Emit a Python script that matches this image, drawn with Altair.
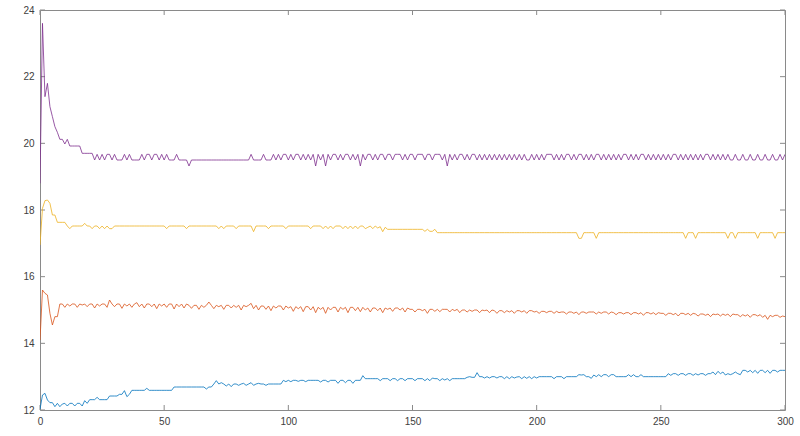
import altair as alt
import pandas as pd

# x positions are 0..300 (one value per step)
x_ticks = [0, 50, 100, 150, 200, 250, 300]
y_ticks = [12, 14, 16, 18, 20, 22, 24]

blue = [
    12.02, 12.45, 12.5, 12.3, 12.22, 12.22, 12.1, 12.2, 12.1, 12.18,
    12.2, 12.12, 12.2, 12.2, 12.12, 12.2, 12.2, 12.12, 12.28, 12.2,
    12.31, 12.31, 12.31, 12.38, 12.31, 12.31, 12.31, 12.31, 12.42, 12.42,
    12.42, 12.42, 12.47, 12.47, 12.58, 12.4, 12.47, 12.59, 12.59, 12.59,
    12.59, 12.59, 12.59, 12.65, 12.59, 12.59, 12.59, 12.59, 12.59, 12.59,
    12.59, 12.59, 12.59, 12.59, 12.69, 12.69, 12.69, 12.69, 12.69, 12.69,
    12.69, 12.69, 12.69, 12.69, 12.69, 12.69, 12.69, 12.63, 12.69, 12.69,
    12.78, 12.88, 12.78, 12.82, 12.78, 12.72, 12.78, 12.7, 12.78, 12.78,
    12.74, 12.78, 12.8, 12.74, 12.78, 12.82, 12.74, 12.78, 12.8, 12.78,
    12.78, 12.74, 12.78, 12.78, 12.78, 12.78, 12.78, 12.78, 12.89, 12.85,
    12.89, 12.85, 12.89, 12.89, 12.86, 12.89, 12.89, 12.85, 12.89, 12.89,
    12.89, 12.89, 12.89, 12.84, 12.89, 12.89, 12.84, 12.89, 12.89, 12.89,
    12.8, 12.89, 12.89, 12.82, 12.89, 12.89, 12.8, 12.89, 12.89, 12.89,
    13.03, 12.94, 12.94, 12.94, 12.94, 12.94, 12.94, 12.88, 12.94, 12.94,
    12.94, 12.88, 12.94, 12.94, 12.88, 12.94, 12.94, 12.88, 12.94, 12.94,
    12.94, 12.88, 12.94, 12.94, 12.94, 12.88, 12.94, 12.88, 12.96, 12.94,
    12.94, 12.88, 12.94, 12.9, 12.94, 12.88, 12.94, 12.94, 12.94, 12.94,
    12.94, 12.94, 12.98, 13.0, 12.98, 12.98, 13.12, 13.0, 13.0, 12.96,
    13.0, 12.96, 13.0, 13.0, 12.96, 13.0, 13.0, 12.94, 13.0, 12.94,
    13.0, 12.96, 12.99, 13.0, 12.94, 13.0, 12.95, 13.0, 12.94, 13.0,
    12.96, 13.0, 13.0, 13.0, 13.0, 13.0, 13.0, 12.94, 13.0, 13.0,
    13.0, 12.94, 13.0, 13.0, 13.0, 13.0, 13.0, 13.06, 13.05, 13.06,
    13.0, 13.0, 12.95, 13.05, 13.0, 13.06, 13.0, 13.06, 13.06, 13.0,
    13.06, 13.06, 13.0, 13.0, 13.0, 13.0, 13.0, 13.06, 13.0, 13.06,
    13.0, 13.0, 13.06, 13.0, 13.0, 13.0, 13.0, 13.0, 13.0, 13.0,
    13.0, 13.0, 13.0, 13.09, 13.04, 13.09, 13.09, 13.04, 13.09, 13.09,
    13.04, 13.09, 13.09, 13.04, 13.09, 13.05, 13.09, 13.09, 13.04, 13.09,
    13.09, 13.14, 13.06, 13.16, 13.09, 13.14, 13.05, 13.09, 13.06, 13.09,
    13.14, 13.09, 13.06, 13.19, 13.19, 13.14, 13.19, 13.12, 13.19, 13.1,
    13.19, 13.19, 13.12, 13.19, 13.1, 13.19, 13.19, 13.14, 13.19, 13.19,
    13.19,
]

orange = [
    14.1, 15.6, 15.5, 15.45, 14.9, 14.55, 14.8, 14.8, 15.18, 15.18,
    15.08, 15.18, 15.12, 15.18, 15.18, 15.08, 15.18, 15.15, 15.18, 15.1,
    15.18, 15.18, 15.06, 15.18, 15.12, 15.18, 15.18, 15.08, 15.3, 15.18,
    15.1, 15.18, 15.18, 15.05, 15.18, 15.12, 15.18, 15.08, 15.18, 15.22,
    15.1, 15.18, 15.06, 15.18, 15.18, 15.1, 15.18, 15.04, 15.18, 15.12,
    15.18, 15.08, 15.18, 15.18, 15.03, 15.18, 15.1, 15.18, 15.06, 15.18,
    15.14, 15.05, 15.14, 15.14, 15.02, 15.14, 15.08, 15.14, 15.24, 15.14,
    15.04, 15.14, 15.1, 15.14, 15.02, 15.14, 15.14, 15.06, 15.14, 15.08,
    15.14, 15.0, 15.14, 15.1, 15.14, 15.2, 15.04, 15.14, 15.0, 15.12,
    15.12, 15.02, 15.12, 14.98, 15.12, 15.06, 15.12, 15.12, 15.0, 15.12,
    15.06, 15.1, 14.96, 15.1, 15.04, 15.1, 14.95, 15.1, 15.1, 15.0,
    15.1, 14.92, 15.08, 15.02, 15.08, 14.9, 15.08, 15.0, 15.08, 15.08,
    14.94, 15.08, 15.02, 15.08, 14.92, 15.08, 15.08, 14.98, 15.08, 14.95,
    15.08, 15.0, 15.06, 14.94, 15.06, 15.06, 14.98, 15.06, 14.92, 15.06,
    15.02, 15.06, 14.96, 15.06, 15.06, 15.0, 15.06, 14.94, 15.06, 15.02,
    15.02, 14.94, 15.02, 15.02, 14.98, 15.02, 14.9, 15.02, 15.02, 14.96,
    15.02, 14.95, 15.02, 15.02, 15.02, 14.94, 15.02, 14.98, 15.02, 14.92,
    15.0, 15.0, 14.94, 15.0, 14.96, 15.0, 15.0, 14.92, 15.0, 14.98,
    15.0, 14.92, 15.0, 14.98, 14.9, 14.98, 14.98, 14.92, 14.98, 14.94,
    14.98, 14.9, 14.98, 14.98, 14.94, 14.98, 14.9, 14.98, 14.98, 14.94,
    14.96, 14.9, 14.96, 14.96, 14.92, 14.96, 14.96, 14.9, 14.96, 14.92,
    14.94, 14.94, 14.88, 14.94, 14.94, 14.9, 14.94, 14.86, 14.94, 14.94,
    14.9, 14.94, 14.94, 14.94, 14.88, 14.94, 14.9, 14.94, 14.94, 14.88,
    14.94, 14.92, 14.86, 14.92, 14.92, 14.88, 14.92, 14.92, 14.86, 14.92,
    14.92, 14.88, 14.92, 14.84, 14.92, 14.92, 14.88, 14.92, 14.86, 14.92,
    14.9, 14.9, 14.84, 14.9, 14.9, 14.86, 14.9, 14.82, 14.9, 14.9,
    14.86, 14.9, 14.84, 14.9, 14.88, 14.82, 14.88, 14.88, 14.84, 14.88,
    14.8, 14.88, 14.86, 14.88, 14.82, 14.88, 14.84, 14.88, 14.8, 14.88,
    14.86, 14.86, 14.8, 14.86, 14.82, 14.86, 14.78, 14.86, 14.86, 14.82,
    14.86, 14.78, 14.84, 14.72, 14.84, 14.8, 14.84, 14.84, 14.78, 14.82,
    14.8,
]

yellow = [
    16.95, 18.05, 18.28, 18.3, 18.2, 17.85, 17.85, 17.63, 17.63, 17.63,
    17.63, 17.52, 17.44, 17.52, 17.52, 17.52, 17.52, 17.52, 17.6, 17.52,
    17.52, 17.44, 17.52, 17.52, 17.44, 17.52, 17.44, 17.52, 17.44, 17.44,
    17.52, 17.52, 17.52, 17.52, 17.52, 17.52, 17.52, 17.52, 17.52, 17.52,
    17.52, 17.52, 17.52, 17.52, 17.52, 17.52, 17.52, 17.52, 17.52, 17.52,
    17.52, 17.44, 17.52, 17.52, 17.52, 17.52, 17.52, 17.52, 17.52, 17.44,
    17.52, 17.52, 17.52, 17.52, 17.52, 17.52, 17.52, 17.52, 17.52, 17.52,
    17.52, 17.52, 17.44, 17.52, 17.44, 17.52, 17.52, 17.52, 17.52, 17.44,
    17.52, 17.52, 17.52, 17.52, 17.52, 17.52, 17.35, 17.52, 17.52, 17.52,
    17.52, 17.52, 17.44, 17.52, 17.52, 17.52, 17.52, 17.52, 17.52, 17.44,
    17.52, 17.52, 17.52, 17.52, 17.52, 17.52, 17.52, 17.52, 17.52, 17.44,
    17.52, 17.52, 17.52, 17.52, 17.44, 17.52, 17.44, 17.52, 17.44, 17.52,
    17.52, 17.52, 17.44, 17.52, 17.44, 17.52, 17.44, 17.52, 17.44, 17.52,
    17.52, 17.44, 17.48, 17.52, 17.44, 17.52, 17.46, 17.5, 17.35, 17.48,
    17.42, 17.42, 17.42, 17.42, 17.42, 17.42, 17.42, 17.42, 17.42, 17.42,
    17.42, 17.42, 17.42, 17.42, 17.42, 17.36, 17.42, 17.36, 17.36, 17.42,
    17.32, 17.32, 17.32, 17.32, 17.32, 17.32, 17.32, 17.32, 17.32, 17.32,
    17.32, 17.32, 17.32, 17.32, 17.32, 17.32, 17.32, 17.32, 17.32, 17.32,
    17.32, 17.32, 17.32, 17.32, 17.32, 17.32, 17.32, 17.32, 17.32, 17.32,
    17.32, 17.32, 17.32, 17.32, 17.32, 17.32, 17.32, 17.32, 17.32, 17.32,
    17.32, 17.32, 17.32, 17.32, 17.32, 17.32, 17.32, 17.32, 17.32, 17.32,
    17.32, 17.32, 17.32, 17.32, 17.32, 17.32, 17.32, 17.15, 17.15, 17.32,
    17.32, 17.32, 17.32, 17.32, 17.15, 17.32, 17.32, 17.32, 17.32, 17.32,
    17.32, 17.32, 17.32, 17.32, 17.32, 17.32, 17.32, 17.32, 17.32, 17.32,
    17.32, 17.32, 17.32, 17.32, 17.32, 17.32, 17.32, 17.32, 17.32, 17.32,
    17.32, 17.32, 17.32, 17.32, 17.32, 17.32, 17.32, 17.32, 17.32, 17.32,
    17.15, 17.32, 17.32, 17.32, 17.15, 17.32, 17.32, 17.32, 17.32, 17.32,
    17.32, 17.32, 17.32, 17.32, 17.32, 17.32, 17.32, 17.15, 17.32, 17.32,
    17.15, 17.32, 17.32, 17.32, 17.32, 17.32, 17.32, 17.32, 17.32, 17.15,
    17.32, 17.32, 17.32, 17.32, 17.32, 17.32, 17.15, 17.32, 17.32, 17.32,
    17.32,
]

purple = [
    18.8, 23.6, 21.4, 21.8, 21.1, 20.8, 20.5, 20.33, 20.12, 20.12,
    19.98, 20.12, 19.92, 19.92, 19.92, 19.92, 19.92, 19.7, 19.7, 19.7,
    19.7, 19.7, 19.5, 19.67, 19.5, 19.67, 19.5, 19.67, 19.67, 19.5,
    19.67, 19.5, 19.5, 19.5, 19.67, 19.5, 19.67, 19.5, 19.5, 19.5,
    19.5, 19.67, 19.5, 19.67, 19.67, 19.5, 19.67, 19.67, 19.5, 19.67,
    19.5, 19.67, 19.5, 19.5, 19.5, 19.67, 19.5, 19.5, 19.5, 19.5,
    19.32, 19.5, 19.5, 19.5, 19.5, 19.5, 19.5, 19.5, 19.5, 19.5,
    19.5, 19.5, 19.5, 19.5, 19.5, 19.5, 19.5, 19.5, 19.5, 19.5,
    19.5, 19.5, 19.5, 19.5, 19.5, 19.67, 19.5, 19.5, 19.5, 19.5,
    19.67, 19.5, 19.5, 19.5, 19.67, 19.5, 19.67, 19.5, 19.67, 19.67,
    19.5, 19.67, 19.5, 19.67, 19.67, 19.5, 19.67, 19.5, 19.67, 19.5,
    19.67, 19.32, 19.67, 19.5, 19.67, 19.32, 19.67, 19.5, 19.67, 19.67,
    19.5, 19.67, 19.5, 19.67, 19.67, 19.5, 19.67, 19.5, 19.67, 19.32,
    19.67, 19.5, 19.67, 19.67, 19.5, 19.67, 19.5, 19.67, 19.67, 19.5,
    19.67, 19.67, 19.5, 19.67, 19.67, 19.67, 19.5, 19.67, 19.5, 19.67,
    19.67, 19.5, 19.67, 19.67, 19.67, 19.5, 19.67, 19.67, 19.5, 19.67,
    19.67, 19.67, 19.5, 19.67, 19.32, 19.67, 19.5, 19.67, 19.5, 19.67,
    19.67, 19.5, 19.67, 19.5, 19.67, 19.67, 19.5, 19.67, 19.5, 19.67,
    19.5, 19.67, 19.5, 19.67, 19.5, 19.67, 19.5, 19.67, 19.5, 19.67,
    19.5, 19.67, 19.5, 19.67, 19.5, 19.67, 19.5, 19.5, 19.67, 19.5,
    19.67, 19.5, 19.67, 19.5, 19.67, 19.67, 19.67, 19.5, 19.67, 19.5,
    19.67, 19.5, 19.67, 19.67, 19.5, 19.67, 19.5, 19.67, 19.67, 19.5,
    19.67, 19.5, 19.67, 19.5, 19.67, 19.67, 19.5, 19.67, 19.5, 19.67,
    19.5, 19.67, 19.5, 19.67, 19.5, 19.67, 19.67, 19.5, 19.67, 19.5,
    19.67, 19.5, 19.67, 19.67, 19.5, 19.67, 19.5, 19.67, 19.5, 19.67,
    19.5, 19.67, 19.5, 19.67, 19.5, 19.67, 19.67, 19.5, 19.67, 19.5,
    19.67, 19.5, 19.67, 19.5, 19.67, 19.5, 19.67, 19.5, 19.67, 19.67,
    19.5, 19.67, 19.5, 19.67, 19.5, 19.67, 19.5, 19.67, 19.5, 19.5,
    19.67, 19.5, 19.5, 19.67, 19.5, 19.5, 19.67, 19.5, 19.5, 19.67,
    19.5, 19.5, 19.67, 19.5, 19.5, 19.67, 19.5, 19.5, 19.67, 19.5,
    19.67,
]

series = [
    ("blue", blue, "#0072BD"),
    ("orange", orange, "#D95319"),
    ("yellow", yellow, "#EDB120"),
    ("purple", purple, "#7E2F8E"),
]

W, H = 745, 400
AX = "#8a8a8a"
TL = 5

xs = alt.Scale(domain=[0, 300], nice=False, zero=False)
ys = alt.Scale(domain=[12, 24], nice=False, zero=False)

lab = dict(labelFont="Liberation Sans", labelFontSize=10, labelColor="#404040",
           domain=False, ticks=False, grid=False, labelPadding=6, title=None,
           labelFlush=False)

xt = pd.DataFrame({"t": x_ticks})
yt = pd.DataFrame({"t": y_ticks})

bottom = alt.Chart(xt).mark_rule(color=AX, strokeWidth=1).encode(
    x=alt.X("t:Q", scale=xs, axis=alt.Axis(values=x_ticks, format="d", **lab)),
    y=alt.value(H), y2=alt.value(H - TL))
top = alt.Chart(xt).mark_rule(color=AX, strokeWidth=1).encode(
    x=alt.X("t:Q", scale=xs), y=alt.value(0), y2=alt.value(TL))
left = alt.Chart(yt).mark_rule(color=AX, strokeWidth=1).encode(
    y=alt.Y("t:Q", scale=ys, axis=alt.Axis(values=y_ticks, format="d", **lab)),
    x=alt.value(0), x2=alt.value(TL))
right = alt.Chart(yt).mark_rule(color=AX, strokeWidth=1).encode(
    y=alt.Y("t:Q", scale=ys), x=alt.value(W), x2=alt.value(W - TL))

layers = [bottom, top, left, right]
for name, vals, col in series:
    df = pd.DataFrame({"x": list(range(len(vals))), "y": vals})
    layers.append(
        alt.Chart(df).mark_line(color=col, strokeWidth=0.8, clip=True).encode(
            x=alt.X("x:Q", scale=xs),
            y=alt.Y("y:Q", scale=ys),
        )
    )

chart = alt.layer(*layers).properties(
    width=W, height=H,
    padding={"left": 40, "top": 10, "right": 15, "bottom": 26},
    autosize="none",
    background="white",
).configure_view(stroke=AX, strokeWidth=1)

chart.save("out.html", embed_options={"renderer": "svg", "actions": False})
